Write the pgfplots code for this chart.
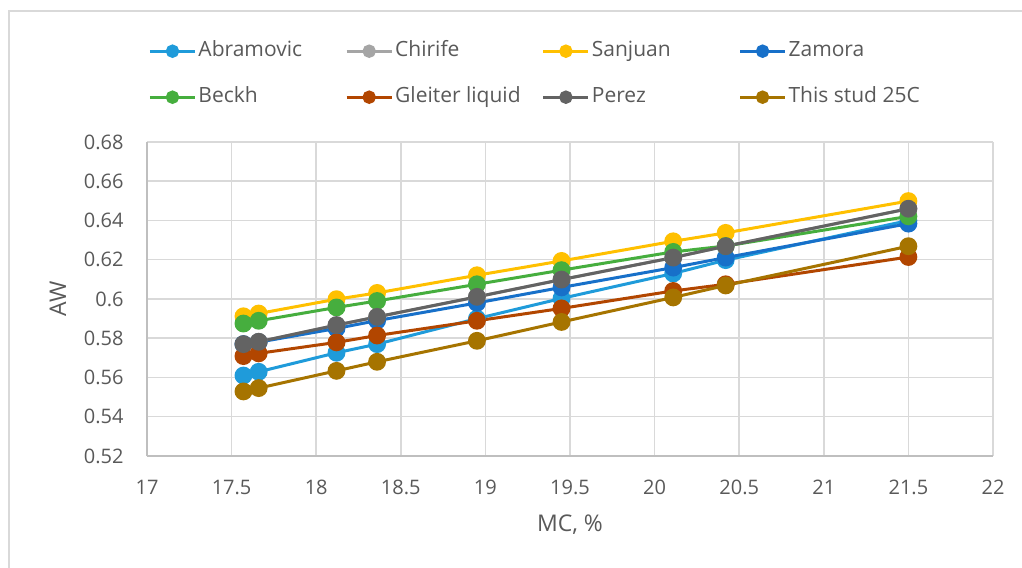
\documentclass[border=0pt]{standalone}
\usepackage{pgfplots}
\pgfplotsset{compat=1.18}
\usepackage{fontspec}
\setmainfont{Open Sans}
\definecolor{cAbr}{HTML}{1F9BDA}
\definecolor{cChi}{HTML}{A5A5A5}
\definecolor{cSan}{HTML}{FFC000}
\definecolor{cZam}{HTML}{1770C9}
\definecolor{cBec}{HTML}{46AE3E}
\definecolor{cGle}{HTML}{B24600}
\definecolor{cPer}{HTML}{636363}
\definecolor{cThi}{HTML}{A67400}
\definecolor{txtgray}{HTML}{595959}
\definecolor{gridgray}{HTML}{D9D9D9}
\definecolor{axisgray}{HTML}{BFBFBF}
\newcommand{\legent}[1]{\makebox[72.35bp][l]{#1}}
\begin{document}
\begin{tikzpicture}
\begin{axis}[
  scale only axis, width=423bp, height=157bp,
  xmin=17, xmax=22, ymin=0.52, ymax=0.68,
  xtick={17,17.5,18,18.5,19,19.5,20,20.5,21,21.5,22},
  ytick={0.52,0.54,0.56,0.58,0.6,0.62,0.64,0.66,0.68},
  major tick length=0pt,
  grid=major,
  major grid style={draw=gridgray, line width=0.75bp},
  axis x line*=bottom, axis y line*=left,
  axis line style={draw=axisgray, line width=0.75bp, -},
  every tick label/.append style={font=\fontsize{10bp}{12bp}\selectfont, text=txtgray, inner sep=0pt},
  /pgf/number format/assume math mode=true,
  xticklabel style={yshift=-12bp, /pgf/number format/.cd, fixed, precision=1},
  yticklabel style={xshift=-11.5bp, /pgf/number format/.cd, fixed, precision=2},
  xlabel={MC, \%}, ylabel={AW},
  label style={font=\fontsize{11.5bp}{13bp}\selectfont, text=txtgray},
  xlabel style={at={(axis description cs:0.5,-0.2197)}, anchor=center},
  ylabel style={at={(axis description cs:-0.1052,0.5)}, anchor=center},
  legend columns=4,
  legend style={draw=none, fill=none, inner sep=0pt, outer sep=0pt,
    at={(rel axis cs:0,1)}, anchor=north west, xshift=0.75bp, yshift=52.4bp,
    font=\fontsize{10.5bp}{12bp}\selectfont, text=txtgray,
    nodes={inner xsep=1bp, inner ysep=2bp, text height=7.5bp, text depth=2.5bp},
    row sep=9bp, column sep=0pt},
  legend image code/.code={\draw[#1, mark repeat=2, mark phase=2, mark size=2.6bp] plot coordinates {(0bp,0bp)(11.25bp,0bp)(22.5bp,0bp)};},
  every axis plot/.append style={line width=1.5bp, mark=*, mark size=3.7bp},
]
\addplot[color=cAbr, mark options={fill=cAbr}] coordinates {(17.57,0.561)(17.66,0.5629)(18.12,0.5726)(18.36,0.577)(18.95,0.590)(19.45,0.6003)(20.11,0.613)(20.42,0.6198)(21.5,0.640)};
\addplot[color=cChi, mark options={fill=cChi}] coordinates {(17.57,0.577)(17.66,0.5782)(18.12,0.5867)(18.36,0.5909)(18.95,0.6011)(19.45,0.6099)(20.11,0.6211)(20.42,0.6269)(21.5,0.646)};
\addplot[color=cSan, mark options={fill=cSan}] coordinates {(17.57,0.5912)(17.66,0.5926)(18.12,0.5999)(18.36,0.6031)(18.95,0.6121)(19.45,0.6194)(20.11,0.6294)(20.42,0.6337)(21.5,0.6499)};
\addplot[color=cZam, mark options={fill=cZam}] coordinates {(17.57,0.577)(17.66,0.578)(18.12,0.585)(18.36,0.589)(18.95,0.598)(19.45,0.6059)(20.11,0.616)(20.42,0.6211)(21.5,0.6384)};
\addplot[color=cBec, mark options={fill=cBec}] coordinates {(17.57,0.5875)(17.66,0.5889)(18.12,0.5957)(18.36,0.599)(18.95,0.6075)(19.45,0.6147)(20.11,0.624)(20.42,0.627)(21.5,0.6421)};
\addplot[color=cGle, mark options={fill=cGle}] coordinates {(17.57,0.5709)(17.66,0.5723)(18.12,0.5779)(18.36,0.5814)(18.95,0.5889)(19.45,0.5952)(20.11,0.6041)(20.42,0.6075)(21.5,0.6214)};
\addplot[color=cPer, mark options={fill=cPer}] coordinates {(17.57,0.577)(17.66,0.5782)(18.12,0.5867)(18.36,0.5909)(18.95,0.6011)(19.45,0.6099)(20.11,0.6211)(20.42,0.6269)(21.5,0.646)};
\addplot[color=cThi, mark options={fill=cThi}] coordinates {(17.57,0.5529)(17.66,0.5546)(18.12,0.5634)(18.36,0.568)(18.95,0.5787)(19.45,0.5883)(20.11,0.6008)(20.42,0.6069)(21.5,0.6269)};
\legend{\legent{Abramovic},\legent{Chirife},\legent{Sanjuan},\legent{Zamora},\legent{Beckh},\legent{Gleiter liquid},\legent{Perez},\legent{This stud 25C}}
\coordinate (SW) at (rel axis cs:0,0);
\end{axis}
\pgfresetboundingbox
\path[use as bounding box] (SW) ++(-73.5bp,-56bp) rectangle ++(511bp,284bp);
\draw[gridgray, line width=0.75bp] (SW) ++(-69bp,-80bp) -- ++(0,302.5bp) -- ++(600bp,0);
\end{tikzpicture}
\end{document}
